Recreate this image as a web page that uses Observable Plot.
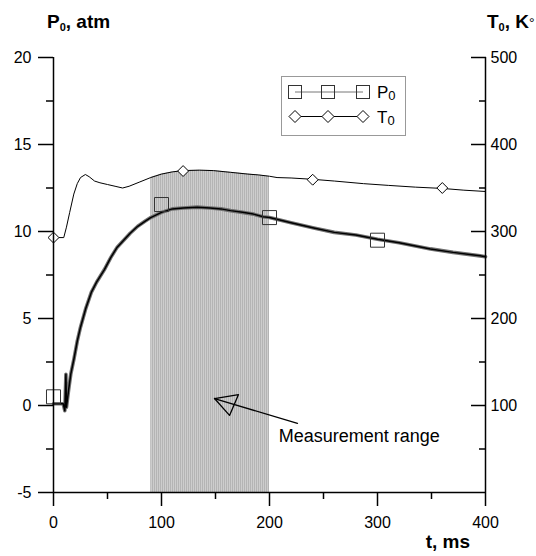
<!DOCTYPE html>
<html><head><meta charset="utf-8">
<script src="https://cdn.jsdelivr.net/npm/d3@7"></script>
<script src="https://cdn.jsdelivr.net/npm/@observablehq/plot@0.6"></script>
<style>
body{margin:0;background:#fff}
svg{font-family:"Liberation Sans",Arial,sans-serif}
</style>
</head><body><div id="chart"></div>
<script>
// Pressure P0 (atm) vs time t (ms)
const pressureTime = [0,5,9,10.5,11.5,12,14,16,19,22,25,30,35,40,47,53,59,65,71,78,85,90,100,110,120,133,145,155,164,175,185,194,200,220,241,260,280,300,320,349,370,395,400];
const pressureValue = [0.1,0.1,0.1,-0.3,1.8,-0.1,0.9,1.8,2.7,3.7,4.5,5.6,6.5,7.1,7.8,8.5,9.1,9.5,9.9,10.3,10.6,10.8,11.1,11.3,11.35,11.4,11.35,11.3,11.2,11.1,11.0,10.85,10.8,10.5,10.2,9.95,9.8,9.55,9.35,9.0,8.8,8.6,8.55];
// Temperature T0 (K) vs time t (ms)
const temperatureTime = [0,5,9.5,12,15,18.8,22,25,29.5,33,38,43,50,57,64,70,80,90,100,110,120,135,148,164,180,190,200,207,220,240,260,287,310,335,360,380,400];
const temperatureValue = [293,293,293,305,322,343,355,362,365.5,363,358,356,354,352,350,352,357,362,366,368.5,370,370.5,370,368,366,365,363.5,362,361.5,360,358,355,353,351,349.5,347.5,346];
// marker samples
const squareTime = [0,100,200,300];
const squareValue = [0.5,11.55,10.8,9.5];
const diamondTime = [0,120,240,360];
const diamondValue = [293,369.5,359.5,350];
// measurement range (ms)
const rangeStart = 90, rangeEnd = 200;
// annotation
const arrowTime = [225.9,149.1];
const arrowValue = [-1.03,0.40];
const headTime = [149.1,171.3,163,149.1];
const headValue = [0.40,0.63,-0.57,0.40];
const annotationText = ["Measurement range"];
const annotationTime = [208.5];
const annotationValue = [-1.74];
// ticks
const xMajor = [0,100,200,300,400];
const xMinor = [50,150,250,350];
const yMajor = [-5,0,5,10,15,20];
const yMinor = [-2.5,2.5,7.5,12.5,17.5];
const tMajorK = [100,200,300,400,500];
const tMinorK = [50,150,250,350,450];

// Temperature is drawn against the pressure scale: T = (P + 5) * 20
const kToP = k => k / 20 - 5;
const pToK = p => String(Math.round((p + 5) * 20));
const blank = () => "";
const plain = d => String(d);

const pData = pressureTime.map((t,i)=>({t, p: pressureValue[i]}));
const tData = temperatureTime.map((t,i)=>({t, p: kToP(temperatureValue[i])}));
const shadeData = tData.filter(d => d.t >= rangeStart && d.t <= rangeEnd);
const squares = squareTime.map((t,i)=>({t, p: squareValue[i]}));
const diamonds = diamondTime.map((t,i)=>({t, p: kToP(diamondValue[i])}));
const arrowData = arrowTime.map((t,i)=>({t, p: arrowValue[i]}));
const headData = headTime.map((t,i)=>({t, p: headValue[i]}));
const annData = annotationText.map((s,i)=>({s, t: annotationTime[i], p: annotationValue[i]}));

const plot = Plot.plot({
  width: 536, height: 556,
  marginLeft: 53, marginRight: 51, marginTop: 57, marginBottom: 64,
  x: {domain: [0,400]},
  y: {domain: [-5,20]},
  style: {fontFamily: "Liberation Sans, Arial, sans-serif", fontSize: "16px", color: "#000", background: "#fff", overflow: "visible"},
  marks: [
    Plot.areaY(shadeData, {x: "t", y1: -5, y2: "p", fill: "url(#hatch)"}),
    Plot.line(pData, {x: "t", y: "p", stroke: "#707070", strokeWidth: 3.6}),
    Plot.line(pData, {x: "t", y: "p", stroke: "#000", strokeWidth: 1.5}),
    Plot.line(tData, {x: "t", y: "p", stroke: "#000", strokeWidth: 1}),
    Plot.dot(squares, {x: "t", y: "p", symbol: "square", r: 7.9, stroke: "#333", fill: "none", strokeWidth: 1}),
    Plot.dot(diamonds, {x: "t", y: "p", symbol: d3.symbolDiamond2, r: 4.9, stroke: "#000", fill: "#fff", strokeWidth: 1}),
    Plot.line(arrowData, {x: "t", y: "p", stroke: "#000", strokeWidth: 1.3}),
    Plot.line(headData, {x: "t", y: "p", stroke: "#000", strokeWidth: 1.3}),
    Plot.text(annData, {x: "t", y: "p", text: "s", textAnchor: "start", fontSize: 18, fill: "#000"}),
    // axis lines
    Plot.ruleX([0], {stroke: "#000", strokeWidth: 1.5}),
    Plot.ruleX([400], {stroke: "#000", strokeWidth: 1.5}),
    Plot.ruleY([-5], {stroke: "#000", strokeWidth: 1.5}),
    // bottom axis
    Plot.axisX(xMajor, {tickSize: 14, tickPadding: 10, label: null, tickFormat: plain, strokeWidth: 1.5, fontSize: 16}),
    Plot.axisX(xMinor, {tickSize: 7, label: null, tickFormat: blank, strokeWidth: 1.5}),
    // left axis
    Plot.axisY(yMajor, {tickSize: 15, tickPadding: 7, label: null, tickFormat: plain, strokeWidth: 1.5, fontSize: 16}),
    Plot.axisY(yMinor, {tickSize: 7, label: null, tickFormat: blank, strokeWidth: 1.5}),
    // right axis (temperature, ticks inward)
    Plot.axisY(tMajorK.map(kToP), {anchor: "right", tickSize: 15, dx: -15, label: null, tickFormat: blank, strokeWidth: 1.5}),
    Plot.axisY(tMinorK.map(kToP), {anchor: "right", tickSize: 7, dx: -7, label: null, tickFormat: blank, strokeWidth: 1.5}),
    Plot.axisY(tMajorK.map(kToP), {anchor: "right", tickSize: 0, tickPadding: 5, label: null, tickFormat: pToK, fontSize: 16})
  ]
});

const svg = d3.select(plot);
const defs = svg.insert("defs", ":first-child");
const pat = defs.append("pattern").attr("id","hatch").attr("patternUnits","userSpaceOnUse")
  .attr("width",2).attr("height",2);
pat.append("rect").attr("width",2).attr("height",2).attr("fill","#cdcdcd");
pat.append("rect").attr("width",1).attr("height",2).attr("fill","#b4b4b4");

// axis titles
const t1 = svg.append("text").attr("x",47).attr("y",28).attr("text-anchor","start").attr("font-weight","bold").attr("font-size",19);
t1.append("tspan").text("P");
t1.append("tspan").attr("font-size",11).attr("dy",3).text("0");
t1.append("tspan").attr("dy",-3).text(", atm");
const t2 = svg.append("text").attr("x",487).attr("y",28).attr("text-anchor","start").attr("font-weight","bold").attr("font-size",19);
t2.append("tspan").text("T");
t2.append("tspan").attr("font-size",11).attr("dy",3).text("0");
t2.append("tspan").attr("dy",-3).text(", K");
t2.append("tspan").attr("font-size",14).attr("font-weight","normal").text("°");
svg.append("text").attr("x",470).attr("y",548).attr("text-anchor","end")
  .attr("font-weight","bold").attr("font-size",19).text("t, ms");

// legend
const lg = svg.append("g");
lg.append("rect").attr("x",281.5).attr("y",76.5).attr("width",124).attr("height",59)
  .attr("fill","#fff").attr("stroke","#999").attr("stroke-width",1);
const lx = [295,328,363];
const rows = [{y:92, label:"P", sym:"square"},{y:116.5, label:"T", sym:"diamond"}];
rows.forEach(r=>{
  lg.append("line").attr("x1",lx[0]).attr("x2",lx[2]).attr("y1",r.y).attr("y2",r.y)
    .attr("stroke", r.sym==="square" ? "#777" : "#000").attr("stroke-width",1);
  lx.forEach(x=>{
    if (r.sym==="square") {
      lg.append("rect").attr("x",x-6.5).attr("y",r.y-6.5).attr("width",13).attr("height",13)
        .attr("fill","none").attr("stroke","#333");
    } else {
      lg.append("path").attr("d",`M${x},${r.y-6}L${x+6},${r.y}L${x},${r.y+6}L${x-6},${r.y}Z`)
        .attr("fill","#fff").attr("stroke","#000");
    }
  });
  const tx = lg.append("text").attr("x",377).attr("y",r.y+6).attr("text-anchor","start").attr("font-size",17);
  tx.append("tspan").text(r.label);
  tx.append("tspan").attr("font-size",13).attr("dy",2).text("0");
});

document.getElementById("chart").appendChild(plot);
</script>
</body></html>
